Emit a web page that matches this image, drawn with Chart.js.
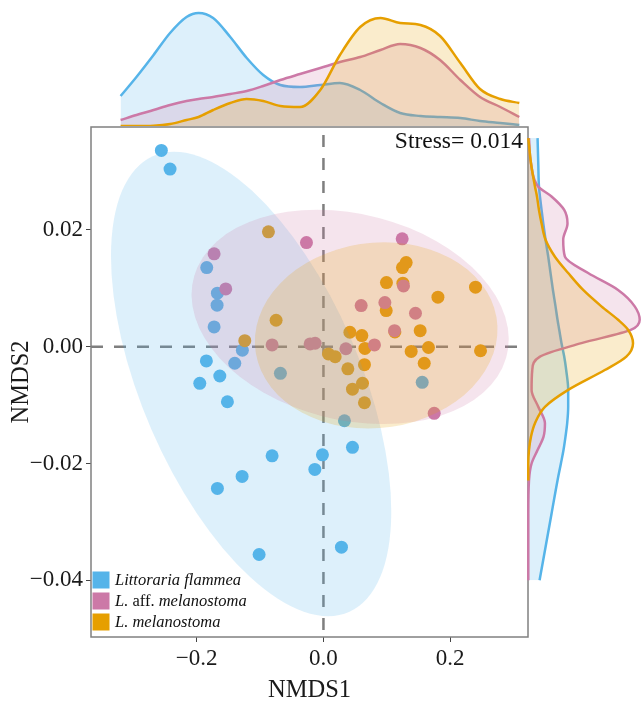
<!DOCTYPE html>
<html>
<head>
<meta charset="utf-8">
<script src="https://cdn.jsdelivr.net/npm/chart.js@4.4.1/dist/chart.umd.min.js"></script>
<style>
  body { margin: 0; background: #fff; }
  #wrap { position: relative; width: 641px; height: 705px; overflow: hidden; }
  canvas { position: absolute; }
</style>
</head>
<body>
<div id="wrap">
  <canvas id="main" width="641" height="705" style="left:0;top:0"></canvas>
  <canvas id="top" width="641" height="127" style="left:0;top:0"></canvas>
  <canvas id="right" width="115" height="705" style="left:526px;top:0"></canvas>
</div>
<script>
// NMDS scores per group
const blueX = [-0.2557,-0.2420,-0.1841,-0.1673,-0.1678,-0.1725,-0.1279,-0.1847,-0.1399,-0.1635,-0.1951,-0.1515,-0.0679,-0.0810,-0.1283,-0.1673,-0.1015,-0.0016,-0.0136,0.0458,0.0284,0.0331,0.1558];
const blueY = [0.03359,0.03040,0.01354,0.00915,0.00710,0.00338,-0.00062,-0.00245,-0.00284,-0.00502,-0.00627,-0.00943,-0.00456,-0.01868,-0.02221,-0.02427,-0.03558,-0.01851,-0.02101,-0.01724,-0.03433,-0.01268,-0.00610];
const pinkX = [-0.1725,-0.1541,-0.0268,-0.0810,-0.0210,-0.0131,0.1242,0.1263,0.0595,0.0969,0.1452,0.1121,0.0805,0.0354,0.1747];
const pinkY = [0.01589,0.00989,0.01782,0.00029,0.00046,0.00058,0.01846,0.01040,0.00703,0.00754,0.00572,0.00274,0.00029,-0.00036,-0.01141];
const orangeX = [-0.0868,-0.0747,-0.1241,0.1305,0.1247,0.0994,0.1253,0.2399,0.1806,0.0990,0.1526,0.1127,0.0417,0.0606,0.0654,0.1384,0.1657,0.2478,0.0079,0.0185,0.1590,0.0647,0.0385,0.0616,0.0458,0.0647];
const orangeY = [0.01966,0.00452,0.00103,0.01440,0.01354,0.01097,0.01087,0.01018,0.00847,0.00617,0.00274,0.00252,0.00247,0.00189,-0.00031,-0.00082,-0.00014,-0.00070,-0.00125,-0.00171,-0.00284,-0.00308,-0.00379,-0.00626,-0.00728,-0.00960];

// 95% ellipses: centre and two conjugate half-axes (data units)
const ellCx = [-0.1141, 0.0421, 0.0832];
const ellCy = [-0.00639, 0.00509, 0.00192];
const ellAx = [-0.1215, -0.0521, 0.0126];
const ellAy = [0.03976, 0.01834, 0.01594];
const ellBx = [0.1847, 0.2447, 0.1910];

// marginal density along NMDS1
const topGrid = [-0.320,-0.295,-0.268,-0.242,-0.216,-0.197,-0.174,-0.147,-0.121,-0.095,-0.068,-0.037,-0.005,0.026,0.058,0.090,0.121,0.153,0.184,0.216,0.247,0.279,0.309];
const topBlue = [3.0,4.9,7.1,9.3,10.9,11.3,10.8,8.9,6.8,5.1,4.1,3.9,4.1,4.3,3.6,2.3,1.3,1.0,0.9,0.8,0.5,0.3,0.1];
const topPink = [0.6,1.1,1.6,2.1,2.5,2.7,2.9,3.2,3.5,4.0,4.6,5.2,5.8,6.4,6.9,7.6,8.2,7.8,6.6,4.6,2.9,1.9,0.9];
const topOrange = [0,0,0.03,0.2,0.6,0.9,1.6,2.3,2.7,2.5,2.0,1.9,3.6,7.1,9.9,10.8,10.3,10.1,9.0,6.3,3.7,2.7,2.3];

// marginal density along NMDS2
const rightGrid = [0.0357,0.0314,0.0274,0.0257,0.0234,0.0211,0.0183,0.0154,0.0126,0.0097,0.0069,0.0046,0.0029,0.0006,-0.0017,-0.0040,-0.0074,-0.0103,-0.0131,-0.0154,-0.0177,-0.0200,-0.0229,-0.0286,-0.0343,-0.0400];
const rightBlue = [0.93,1.0,1.07,1.17,1.33,1.5,1.73,2.0,2.23,2.47,2.73,2.93,3.1,3.33,3.6,3.8,4.0,4.0,3.9,3.73,3.53,3.27,2.93,2.33,1.73,1.13];
const rightPink = [0.07,0.27,1.0,2.33,3.6,3.93,3.5,3.67,6.0,9.0,10.67,11.17,10.33,5.33,1.17,0.4,0.33,1.0,1.67,1.53,0.93,0.33,0.07,0,0,0];
const rightOrange = [0,0.27,0.67,0.87,1.07,1.33,1.73,2.67,4.0,5.5,7.33,9.0,10.0,10.5,9.83,7.67,4.0,1.67,0.67,0.27,0.07,0,0,null,null,null];

const xTicks = [-0.2, 0, 0.2];
const yTicks = [-0.04, -0.02, 0, 0.02];

const X_MIN = -0.3667, X_MAX = 0.3227, Y_MIN = -0.0497, Y_MAX = 0.0376;

const colors = ['#56B4E9', '#CC79A7', '#E69F00'];
const fills = ['rgba(86,180,233,0.2)', 'rgba(204,121,167,0.2)', 'rgba(230,159,0,0.2)'];
const serif = '"Liberation Serif", "Times New Roman", serif';

const fmt = (v, d) => (v < 0 ? '\u2212' : '') + Math.abs(v).toFixed(d);
const pts = (xs, ys) => xs.map((x, i) => ({x: x, y: ys[i]}));

const legendRows = [
  [['Littoraria flammea', 'italic']],
  [['L.', 'italic'], [' aff. ', 'normal'], ['melanostoma', 'italic']],
  [['L. melanostoma', 'italic']]
];

const decor = {
  id: 'decor',
  beforeDatasetsDraw(chart) {
    const {ctx, chartArea: a, scales: {x, y}} = chart;
    ctx.save();
    ctx.strokeStyle = '#7f7f7f';
    ctx.lineWidth = 2.5;
    ctx.setLineDash([12, 11]);
    const x0 = x.getPixelForValue(0), y0 = y.getPixelForValue(0);
    ctx.beginPath();
    ctx.moveTo(x0, a.top + 8); ctx.lineTo(x0, a.bottom);
    ctx.moveTo(a.left, y0); ctx.lineTo(a.right, y0);
    ctx.stroke();
    ctx.restore();
  },
  afterDatasetsDraw(chart) {
    const {ctx, chartArea: a, scales: {x, y}} = chart;
    ctx.save();
    ctx.beginPath();
    ctx.rect(a.left, a.top, a.right - a.left, a.bottom - a.top);
    ctx.clip();
    ellCx.forEach((c, i) => {
      const cx = x.getPixelForValue(c), cy = y.getPixelForValue(ellCy[i]);
      const ax = x.getPixelForValue(c + ellAx[i]) - cx;
      const ay = y.getPixelForValue(ellCy[i] + ellAy[i]) - cy;
      const bx = x.getPixelForValue(c + ellBx[i]) - cx;
      ctx.save();
      ctx.transform(ax, ay, bx, 0, cx, cy);
      ctx.beginPath();
      ctx.arc(0, 0, 1, 0, Math.PI * 2);
      ctx.restore();
      ctx.fillStyle = fills[i];
      ctx.fill();
    });
    ctx.restore();
  },
  afterDraw(chart) {
    const {ctx, chartArea: a} = chart;
    ctx.save();
    ctx.strokeStyle = '#808080';
    ctx.lineWidth = 1.5;
    ctx.strokeRect(a.left, a.top, a.right - a.left, a.bottom - a.top);

    ctx.fillStyle = '#111';
    ctx.font = '23.5px ' + serif;
    ctx.textAlign = 'right';
    ctx.textBaseline = 'middle';
    ctx.fillText('Stress= 0.014', a.right - 5, a.top + 15);

    ctx.textAlign = 'left';
    legendRows.forEach((row, i) => {
      const cy = 580 + i * 21;
      ctx.fillStyle = colors[i];
      ctx.fillRect(a.left + 1.5, cy - 8.5, 17, 17);
      ctx.fillStyle = '#111';
      let tx = a.left + 24;
      row.forEach(([t, st]) => {
        ctx.font = st + ' 16.5px ' + serif;
        ctx.fillText(t, tx, cy + 1);
        tx += ctx.measureText(t).width;
      });
    });
    ctx.restore();
  }
};

const tickFont = {family: serif, size: 23};
const titleFont = {family: serif, size: 24.5};

new Chart(document.getElementById('main'), {
  type: 'scatter',
  data: {
    datasets: [
      {label: 'Littoraria flammea', data: pts(blueX, blueY), backgroundColor: colors[0], order: 3},
      {label: 'L. aff. melanostoma', data: pts(pinkX, pinkY), backgroundColor: colors[1], order: 1},
      {label: 'L. melanostoma', data: pts(orangeX, orangeY), backgroundColor: colors[2], order: 2}
    ]
  },
  options: {
    responsive: false,
    animation: false,
    events: [],
    elements: {point: {radius: 6.5, borderWidth: 0}},
    layout: {padding: {left: 0, right: 113, top: 127, bottom: 0}},
    plugins: {legend: {display: false}, tooltip: {enabled: false}},
    scales: {
      x: {
        type: 'linear', min: X_MIN, max: X_MAX,
        afterBuildTicks: s => { s.ticks = xTicks.map(v => ({value: v})); },
        afterFit: s => { s.height = 68; },
        ticks: {callback: v => fmt(v, 1), font: tickFont, color: '#1a1a1a', padding: 3, maxRotation: 0, autoSkip: false},
        grid: {display: true, drawOnChartArea: false, drawTicks: true, tickLength: 5, color: '#444'},
        border: {display: false},
        title: {display: true, text: 'NMDS1', font: titleFont, color: '#1a1a1a', padding: {top: 0, bottom: 0}}
      },
      y: {
        type: 'linear', min: Y_MIN, max: Y_MAX,
        afterBuildTicks: s => { s.ticks = yTicks.map(v => ({value: v})); },
        afterFit: s => { s.width = 91; },
        ticks: {callback: v => fmt(v, 2), font: tickFont, color: '#1a1a1a', padding: 3, autoSkip: false},
        grid: {display: true, drawOnChartArea: false, drawTicks: true, tickLength: 5, color: '#444'},
        border: {display: false},
        title: {display: true, text: 'NMDS2', font: titleFont, color: '#1a1a1a', padding: {top: 7, bottom: 0}}
      }
    }
  },
  plugins: [decor]
});

function densitySets(grid, series, horizontal) {
  return series.map((vals, i) => ({
    data: grid.map((g, j) => horizontal ? {x: g, y: vals[j]} : {x: vals[j], y: g}),
    borderColor: colors[i],
    backgroundColor: fills[i],
    borderWidth: 2.5,
    pointRadius: 0,
    fill: 'origin',
    cubicInterpolationMode: 'monotone',
    order: 3 - i
  }));
}

new Chart(document.getElementById('top'), {
  type: 'line',
  data: {datasets: densitySets(topGrid, [topBlue, topPink, topOrange], true)},
  options: {
    responsive: false,
    animation: false,
    events: [],
    layout: {padding: {left: 91, right: 113, top: 10, bottom: 1}},
    plugins: {legend: {display: false}, tooltip: {enabled: false}},
    scales: {
      x: {type: 'linear', min: X_MIN, max: X_MAX, display: false},
      y: {type: 'linear', min: 0, max: 11.6, display: false}
    }
  }
});

new Chart(document.getElementById('right'), {
  type: 'line',
  data: {datasets: densitySets(rightGrid, [rightBlue, rightPink, rightOrange], false)},
  options: {
    indexAxis: 'y',
    responsive: false,
    animation: false,
    events: [],
    layout: {padding: {left: 0, right: 0, top: 127, bottom: 68}},
    plugins: {legend: {display: false}, tooltip: {enabled: false}},
    scales: {
      x: {type: 'linear', min: -0.23, max: 11.3, display: false},
      y: {type: 'linear', min: Y_MIN, max: Y_MAX, display: false}
    }
  }
});
</script>
</body>
</html>
